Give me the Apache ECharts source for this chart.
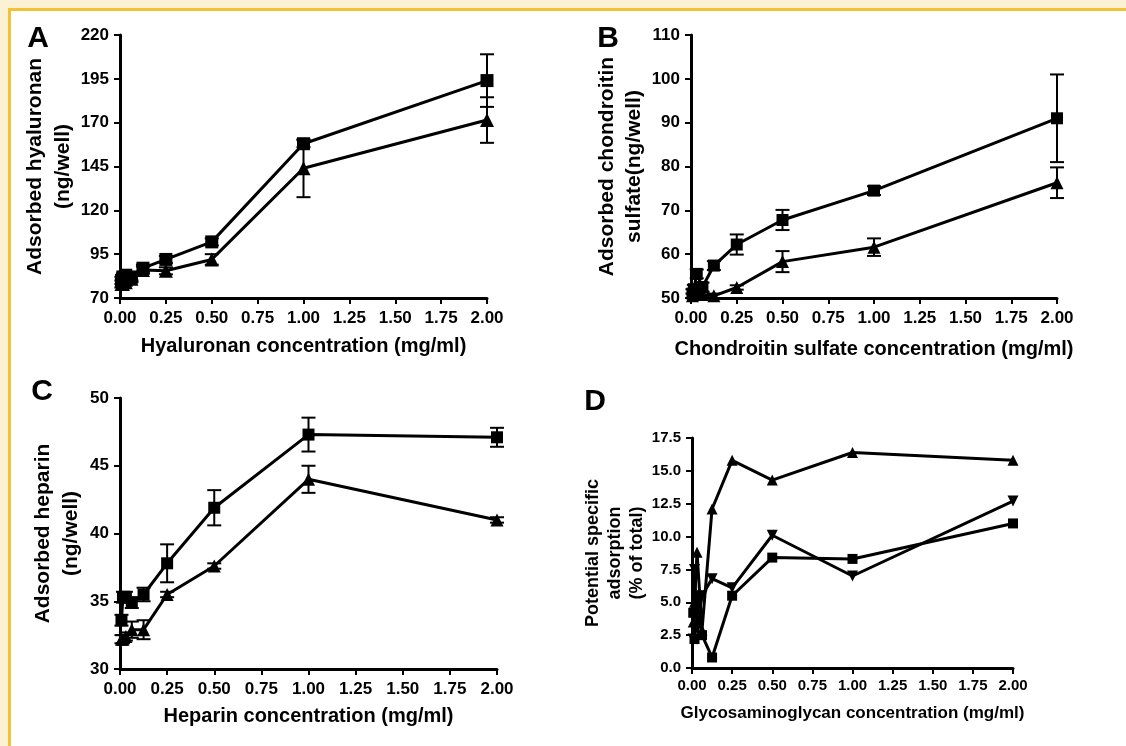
<!DOCTYPE html>
<html>
<head>
<meta charset="utf-8">
<script src="https://cdn.jsdelivr.net/npm/echarts@6/dist/echarts.min.js"></script>
<style>
html, body { margin: 0; padding: 0; background: #fcf0d5; }
#frame {
  position: absolute; left: 8px; top: 8px; right: 0; bottom: 0;
  background: #fff; border-left: 3px solid #f3c232; border-top: 3px solid #f3c232;
}
#chart { position: absolute; left: 0; top: 0; width: 1126px; height: 746px; }
</style>
</head>
<body>
<div id="frame"></div>
<div id="chart"></div>
<script>
// concentrations (mg/ml)
const conc = [0.0078, 0.0156, 0.03125, 0.0625, 0.125, 0.25, 0.5, 1, 2];

// A: hyaluronan
const haSquare = [80, 82, 83, 82, 87, 92, 102, 158, 194];
const haSquareErr = [2, 2, 2, 2, 2, 2, 2, 2, 15];
const haTriangle = [78, 78, 79, 81, 86, 85.5, 92, 144, 171.5];
const haTriangleErr = [2, 2, 2, 2, 2, 2, 3, 16.5, 13];

// B: chondroitin sulfate
const csSquare = [51, 52, 55.5, 52.5, 57.4, 62.2, 67.8, 74.5, 91];
const csSquareErr = [1, 1, 1, 1, 1, 2.3, 2.3, 1, 10];
const csTriangle = [50.5, 51.5, 51, 50.8, 50.5, 52.4, 58.3, 61.6, 76.3];
const csTriangleErr = [0.5, 0.5, 0.5, 0.5, 0.5, 0.5, 2.4, 2, 3.5];

// C: heparin
const hpSquare = [33.6, 35.3, 35.3, 34.9, 35.5, 37.8, 41.9, 47.3, 47.1];
const hpSquareErr = [0.4, 0.4, 0.4, 0.4, 0.5, 1.4, 1.3, 1.25, 0.7];
const hpTriangle = [32.2, 32.2, 32.4, 32.9, 32.9, 35.5, 37.6, 44.0, 41.0];
const hpTriangleErr = [0.3, 0.3, 0.3, 0.6, 0.7, 0.2, 0.2, 1.0, 0.2];

// D: potential specific adsorption (% of total)
const dSquare = [4.2, 2.2, 5.5, 2.5, 0.8, 5.5, 8.4, 8.3, 11.0];
const dTriangle = [3.5, 5.0, 8.8, 2.9, 12.1, 15.8, 14.3, 16.4, 15.8];
const dInverted = [2.2, 7.5, 3.0, 5.5, 6.8, 6.1, 10.1, 7.0, 12.7];

const FONT = "'Liberation Sans', Arial, sans-serif";

function pairs(vals) {
  return conc.map(function (c, i) { return [c, vals[i]]; });
}

function lineSeries(idx, vals, symbol, size, rotate) {
  return {
    type: "line",
    xAxisIndex: idx,
    yAxisIndex: idx,
    data: pairs(vals),
    symbol: symbol,
    symbolSize: size,
    symbolRotate: rotate || 0,
    showSymbol: true,
    lineStyle: { color: "#000", width: 3 },
    itemStyle: { color: "#000" },
    z: 3,
  };
}

function errSeries(idx, vals, errs) {
  return {
    type: "custom",
    xAxisIndex: idx,
    yAxisIndex: idx,
    silent: true,
    z: 2,
    encode: { x: 0, y: [1, 2] },
    data: conc.map(function (c, i) { return [c, vals[i] - errs[i], vals[i] + errs[i]]; }),
    renderItem: function (params, api) {
      const lo = api.coord([api.value(0), api.value(1)]);
      const hi = api.coord([api.value(0), api.value(2)]);
      const w = 7;
      const st = { stroke: "#000", lineWidth: 2 };
      return {
        type: "group",
        children: [
          { type: "line", shape: { x1: hi[0], y1: hi[1], x2: lo[0], y2: lo[1] }, style: st },
          { type: "line", shape: { x1: hi[0] - w, y1: hi[1], x2: hi[0] + w, y2: hi[1] }, style: st },
          { type: "line", shape: { x1: lo[0] - w, y1: lo[1], x2: lo[0] + w, y2: lo[1] }, style: st },
        ],
      };
    },
  };
}

function xAxis(idx, name, gap, small) {
  return {
    type: "value",
    gridIndex: idx,
    min: 0,
    max: 2,
    interval: 0.25,
    name: name,
    nameLocation: "middle",
    nameGap: gap,
    nameTextStyle: {
      fontFamily: FONT,
      fontWeight: "bold",
      fontSize: small ? 17 : 20,
      color: "#000",
    },
    axisLine: { onZero: false, lineStyle: { color: "#000", width: 3 } },
    axisTick: { show: true, length: 6, lineStyle: { color: "#000", width: 2 } },
    axisLabel: {
      margin: small ? 10 : 12,
      formatter: function (v) { return v.toFixed(2); },
      fontFamily: FONT,
      fontWeight: "bold",
      fontSize: small ? 15 : 17,
      color: "#000",
    },
    splitLine: { show: false },
  };
}

function yAxis(idx, min, max, interval, name, gap, lh, small, digits) {
  return {
    type: "value",
    gridIndex: idx,
    min: min,
    max: max,
    interval: interval,
    name: name,
    nameLocation: "middle",
    nameGap: gap,
    nameTextStyle: {
      fontFamily: FONT,
      fontWeight: "bold",
      fontSize: small ? 18 : 21,
      lineHeight: lh,
      color: "#000",
      align: "center",
    },
    axisLine: { onZero: false, lineStyle: { color: "#000", width: 3 } },
    axisTick: { show: true, length: 6, lineStyle: { color: "#000", width: 2 } },
    axisLabel: {
      margin: 11,
      formatter: function (v) { return digits ? v.toFixed(digits) : String(v); },
      fontFamily: FONT,
      fontWeight: "bold",
      fontSize: small ? 15 : 17,
      color: "#000",
    },
    splitLine: { show: false },
  };
}

function letter(text, x, y) {
  return {
    type: "text",
    x: x,
    y: y,
    style: {
      text: text,
      fontFamily: FONT,
      fontWeight: "bold",
      fontSize: 30,
      fill: "#000",
      align: "center",
      verticalAlign: "middle",
    },
  };
}

const chart = echarts.init(document.getElementById("chart"), null, { renderer: "canvas" });

const option = {
  animation: false,
  backgroundColor: "transparent",
  grid: [
    { left: 120, top: 35, width: 367, height: 263, outerBoundsMode: "none" },
    { left: 691, top: 35, width: 366, height: 263, outerBoundsMode: "none" },
    { left: 120, top: 398, width: 377, height: 271, outerBoundsMode: "none" },
    { left: 692, top: 438, width: 321, height: 230, outerBoundsMode: "none" },
  ],
  xAxis: [
    xAxis(0, "Hyaluronan concentration (mg/ml)", 38),
    xAxis(1, "Chondroitin sulfate concentration (mg/ml)", 41),
    xAxis(2, "Heparin concentration (mg/ml)", 37),
    xAxis(3, "Glycosaminoglycan concentration (mg/ml)", 37, true),
  ],
  yAxis: [
    yAxis(0, 70, 220, 25, "Adsorbed hyaluronan\n(ng/well)", 40, 28),
    yAxis(1, 50, 110, 10, "Adsorbed chondroitin\nsulfate(ng/well)", 42, 27),
    yAxis(2, 30, 50, 5, "Adsorbed heparin\n(ng/well)", 35, 28),
    yAxis(3, 0, 17.5, 2.5, "Potential specific\nadsorption\n(% of total)", 44, 22, true, 1),
  ],
  graphic: [
    letter("A", 38, 39),
    letter("B", 608, 39),
    letter("C", 42, 392),
    letter("D", 595, 402),
  ],
  series: [
    errSeries(0, haSquare, haSquareErr),
    errSeries(0, haTriangle, haTriangleErr),
    lineSeries(0, haSquare, "rect", 13),
    lineSeries(0, haTriangle, "triangle", 14),

    errSeries(1, csSquare, csSquareErr),
    errSeries(1, csTriangle, csTriangleErr),
    lineSeries(1, csSquare, "rect", 12),
    lineSeries(1, csTriangle, "triangle", 13),

    errSeries(2, hpSquare, hpSquareErr),
    errSeries(2, hpTriangle, hpTriangleErr),
    lineSeries(2, hpSquare, "rect", 12),
    lineSeries(2, hpTriangle, "triangle", 13),

    lineSeries(3, dSquare, "rect", 10),
    lineSeries(3, dTriangle, "triangle", 11),
    lineSeries(3, dInverted, "triangle", 11, 180),
  ],
};

chart.setOption(option);
</script>
</body>
</html>
